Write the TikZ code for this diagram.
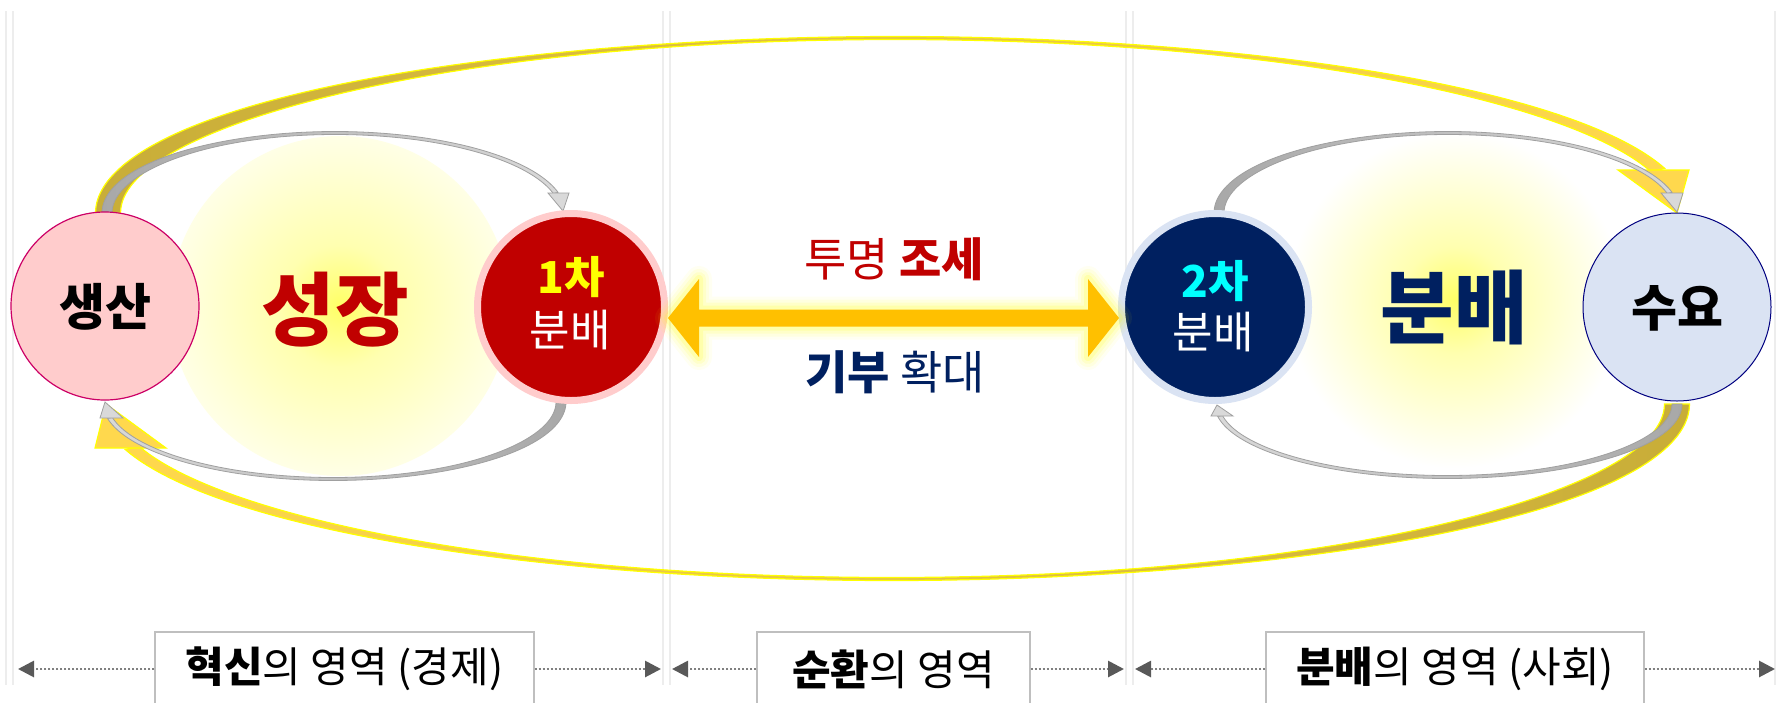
\documentclass[tikz,border=0pt]{standalone}
\usepackage{fontspec}
\setmainfont{Noto Sans CJK KR}
\usetikzlibrary{arrows.meta}
\definecolor{cRed}{HTML}{C00000}
\definecolor{cNavy}{HTML}{002060}
\definecolor{cPink}{HTML}{FFCCCC}
\definecolor{cMag}{HTML}{CC0066}
\definecolor{cLBlue}{HTML}{DAE3F3}
\definecolor{cBlueBd}{HTML}{000080}
\definecolor{cGold}{HTML}{FFC000}
\definecolor{cCyan}{HTML}{00FFFF}
\definecolor{cYel}{HTML}{FFFF00}
\definecolor{goldD}{HTML}{C8AD38}
\definecolor{goldL}{HTML}{FFD84D}
\definecolor{grayD}{HTML}{A8A8A8}
\definecolor{grayL}{HTML}{D9D9D9}
\definecolor{grayO}{HTML}{A0A0A0}
\definecolor{gA1}{HTML}{FFFF66}
\definecolor{gA2}{HTML}{FFFFB0}
\definecolor{gA3}{HTML}{FFFFE6}
\pgfdeclareradialshading{glowA}{\pgfpoint{0bp}{0bp}}{color(0bp)=(gA1); color(9bp)=(gA2); color(25bp)=(gA3); color(50bp)=(gA3)}
\pgfdeclareradialshading{glowB}{\pgfpoint{0bp}{0bp}}{color(0bp)=(gA1); color(8bp)=(gA2); color(25bp)=(white); color(50bp)=(white)}

\newcommand\ellband[8]{%
  \path[#8] plot[domain=#6:#7,samples=100,smooth]
    ({#1+(#3+0.5*(\bwm+ifthenelse(cos(\x)<0,\bwl,\bwr)*abs(cos(\x))^3))*cos(\x)},
     {#2#5(#4+0.5*(\bwm+ifthenelse(cos(\x)<0,\bwl,\bwr)*abs(cos(\x))^3))*sin(\x)})
    -- plot[domain=#7:#6,samples=100,smooth]
    ({#1+(#3-0.5*(\bwm+ifthenelse(cos(\x)<0,\bwl,\bwr)*abs(cos(\x))^3))*cos(\x)},
     {#2#5(#4-0.5*(\bwm+ifthenelse(cos(\x)<0,\bwl,\bwr)*abs(cos(\x))^3))*sin(\x)})
    -- cycle;}

\begin{document}
\begin{tikzpicture}[x=1pt,y=-1pt,
 sepline/.style={draw=black!7,line width=2.5pt},
 areabox/.style={draw=black!25,fill=white,line width=1.2pt,minimum height=74pt,inner sep=0pt,font=\fontsize{42}{42}\selectfont},
 dotarr/.style={draw=black!50,line width=2.8pt,dash pattern=on 2pt off 2pt,-{Triangle[length=16pt,width=16pt,color=black!65]}},
 yband/.style={draw=cYel,line width=1.2pt},
 gband/.style={draw=grayO,line width=0.8pt},
 yhead/.style={fill=goldL,draw=cYel,line width=1.2pt},
 ghead/.style={fill=grayL,draw=grayO,line width=0.8pt},
 txt/.style={inner sep=0pt},
]
\clip (0,0) rectangle (1777,702);
\fill[white] (0,0) rectangle (1777,702);

% separators
\foreach \xx in {6,13,663,670,1126,1133,1775}{\draw[sepline] (\xx,11) -- (\xx,685);}

% glows
\shade[shading=glowA] (340,306) circle[radius=170pt];
\shade[shading=glowB] (1455,300) circle[radius=168pt];

% yellow arcs
\def\bwm{3}\def\bwl{22}\def\bwr{12}
\ellband{895}{213}{787}{175}{-}{180}{14.2}{yband,left color=goldD,right color=goldL}
\filldraw[yhead] (1618,170) -- (1689,170) -- (1677,213) -- cycle;
\def\bwl{12}\def\bwr{22}
\ellband{892}{404}{785}{175}{+}{0}{165.5}{yband,left color=goldL,right color=goldD}
\filldraw[yhead] (95,448) -- (166,448) -- (106,404) -- cycle;

% gray arcs
\def\bwm{3}\def\bwl{7}\def\bwr{2}
\ellband{335}{213}{228}{80}{-}{180}{14.5}{gband,left color=grayD,right color=grayL}
\filldraw[ghead] (548,193) -- (569,193) -- (563,211) -- cycle;
\ellband{1448}{213}{229}{80}{-}{180}{14.5}{gband,left color=grayD,right color=grayL}
\filldraw[ghead] (1661,193) -- (1683,193) -- (1677,212) -- cycle;
\def\bwl{2}\def\bwr{7}
\ellband{333}{402}{228}{77}{+}{0}{168}{gband,left color=grayL,right color=grayD}
\filldraw[ghead] (100,418) -- (123,418) -- (105,402) -- cycle;
\ellband{1447}{404}{230}{73}{+}{0}{170.5}{gband,left color=grayL,right color=grayD}
\filldraw[ghead] (1211,416) -- (1233,416) -- (1217,405) -- cycle;

% circles
\node[circle,minimum size=188pt,fill=cPink,draw=cMag,line width=1.2pt] (prod) at (105,306) {};
\node[circle,minimum size=187pt,fill=cRed,draw=cPink,line width=7pt] (dist1) at (571,307) {};
\node[circle,minimum size=187pt,fill=cNavy,draw=cLBlue,line width=7pt] (dist2) at (1215,307) {};
\node[circle,minimum size=188pt,fill=cLBlue,draw=cBlueBd,line width=1pt] (dem) at (1677,307) {};

% central double arrow
\def\dblarrow{(668,318) -- (699,279) -- (699,309.5) -- (1088,309.5) -- (1088,279) -- (1119,318) -- (1088,357) -- (1088,326.5) -- (699,326.5) -- (699,357) -- cycle}
\foreach \lw/\op in {26/0.05,20/0.07,14/0.1,8/0.15}{\draw[cYel,line width=\lw pt,opacity=\op,line join=round] \dblarrow;}
\fill[cGold] \dblarrow;

% texts
\node[txt,font=\bfseries\fontsize{50}{50}\selectfont] (tprod) at (105,307) {생산};
\node[txt,font=\bfseries\fontsize{80}{80}\selectfont,text=cRed] (tgrow) at (335,310) {성장};
\node[txt,font=\bfseries\fontsize{44}{44}\selectfont,text=cYel] (t1a) at (571,277) {1차};
\node[txt,font=\fontsize{44}{44}\selectfont,text=white] (t1b) at (570,330) {분배};
\node[txt,font=\bfseries\fontsize{44}{44}\selectfont,text=cCyan] (t2a) at (1215,281) {2차};
\node[txt,font=\fontsize{44}{44}\selectfont,text=white] (t2b) at (1213,332) {분배};
\node[txt,font=\bfseries\fontsize{80}{80}\selectfont,text=cNavy] (tdist) at (1454,307) {분배};
\node[txt,font=\bfseries\fontsize{50}{50}\selectfont] (tdem) at (1677,308) {수요};
\node[txt,font=\fontsize{46}{46}\selectfont,text=cRed] (ttax) at (894,259) {투명 \textbf{조세}};
\node[txt,font=\fontsize{46}{46}\selectfont,text=cNavy] (tgift) at (895,372) {\textbf{기부} 확대};

% bottom area labels
\node[areabox,minimum width=379pt] (bA) at (344.5,669) {\textbf{혁신}의 영역 (경제)};
\node[areabox,minimum width=273pt] (bB) at (893.5,669) {\textbf{순환}의 영역};
\node[areabox,minimum width=378pt] (bC) at (1455,669) {\textbf{분배}의 영역 (사회)};
\coordinate (aL1) at (18,669); \coordinate (aR1) at (661,669);
\coordinate (aL2) at (672,669); \coordinate (aR2) at (1124,669);
\coordinate (aL3) at (1135,669); \coordinate (aR3) at (1775,669);
\draw[dotarr] (bA.west) -- (aL1);
\draw[dotarr] (bA.east) -- (aR1);
\draw[dotarr] (bB.west) -- (aL2);
\draw[dotarr] (bB.east) -- (aR2);
\draw[dotarr] (bC.west) -- (aL3);
\draw[dotarr] (bC.east) -- (aR3);
\end{tikzpicture}
\end{document}
